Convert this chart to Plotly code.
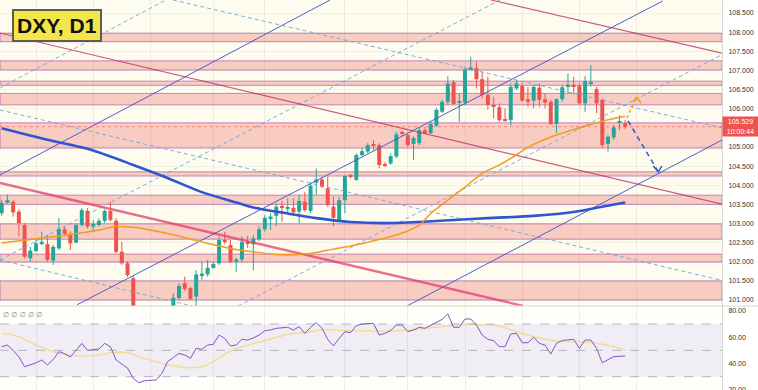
import plotly.graph_objects as go

# ---------------- data ----------------
bars = list(range(110))
opens = [103.27,103.54,103.57,103.31,102.96,102.09,102.28,102.46,102.46,102.03,
         102.35,102.85,102.73,102.50,102.96,103.33,102.92,102.96,103.07,103.33,
         103.07,102.26,101.96,101.57,100.55,99.96,99.86,100.08,100.52,100.62,
         100.72,101.05,101.44,101.31,101.09,101.65,101.67,101.84,101.96,102.57,
         102.44,102.00,102.06,102.52,102.46,102.59,102.85,103.14,103.20,103.46,
         103.38,103.41,103.31,103.57,103.33,104.07,104.15,103.92,103.44,103.06,
         103.61,104.27,104.14,104.79,104.88,105.06,105.05,104.55,104.57,104.75,
         105.37,105.31,105.08,105.10,105.44,105.36,105.56,105.92,106.18,106.69,
         106.16,106.16,107.03,107.06,106.77,106.36,106.10,106.04,105.72,105.70,
         106.53,106.59,106.25,106.21,106.55,106.25,106.18,105.60,106.25,106.59,
         106.62,106.59,106.14,106.66,106.51,106.23,105.08,105.25,105.64,105.62]
highs = [103.61,103.75,103.61,103.37,103.01,102.39,102.57,102.79,102.70,102.44,
         103.14,102.92,102.79,103.01,103.40,103.40,103.09,103.14,103.37,103.57,
         103.14,102.52,102.02,101.63,100.62,100.12,100.25,100.60,100.78,100.80,
         101.18,101.44,101.61,101.35,101.78,102.00,102.05,101.99,102.66,102.78,
         102.57,102.10,102.66,102.67,102.70,102.93,103.22,103.27,103.53,103.59,
         103.66,103.66,103.75,103.82,104.08,104.44,104.22,104.22,103.70,103.70,
         104.27,104.29,104.83,104.97,105.10,105.18,105.10,104.61,104.83,105.40,
         105.42,105.36,105.27,105.50,105.52,105.68,106.02,106.23,106.85,106.75,
         106.40,107.10,107.36,107.23,106.97,106.84,106.31,106.14,106.01,106.66,
         106.75,106.66,106.57,106.62,106.66,106.40,106.23,106.27,106.62,106.92,
         106.84,106.66,106.85,107.14,106.57,106.27,105.31,105.57,105.83,105.70]
lows = [103.20,103.52,103.18,102.66,102.09,102.00,102.26,102.44,102.00,101.92,
        102.31,102.66,102.31,102.48,102.92,102.87,102.79,102.92,103.01,103.05,
        102.22,101.92,101.60,100.45,99.90,99.58,99.62,99.95,100.35,100.40,
        100.62,101.00,101.24,101.00,100.84,101.52,101.61,101.82,101.92,102.46,
        101.97,101.74,101.99,102.36,101.78,102.54,102.79,102.83,102.94,103.05,
        103.27,103.22,103.01,103.31,103.27,103.75,103.93,103.44,102.92,103.05,
        103.27,104.18,104.11,104.75,104.84,104.92,104.44,104.48,104.53,104.71,
        105.29,105.01,104.66,105.05,105.34,105.34,105.52,105.89,106.10,106.10,
        105.66,106.10,107.01,106.53,106.27,105.97,105.75,105.66,105.66,105.57,
        106.49,106.18,106.05,106.01,106.05,106.01,105.57,105.37,106.18,106.40,
        106.40,106.10,105.92,106.57,105.88,104.97,104.88,105.18,105.44,105.47]
closes = [103.54,103.61,103.29,103.01,102.13,102.29,102.48,102.52,102.05,102.39,
          102.86,102.73,102.48,102.96,103.35,102.92,102.99,103.07,103.33,103.09,
          102.26,101.96,101.65,100.55,99.96,99.86,100.08,100.52,100.62,100.70,
          101.06,101.37,101.29,101.03,101.67,101.69,101.84,101.94,102.57,102.52,
          102.00,102.06,102.52,102.48,102.61,102.85,103.15,103.18,103.44,103.41,
          103.42,103.29,103.59,103.35,103.99,104.15,103.96,103.48,103.15,103.61,
          104.24,104.22,104.79,104.89,105.05,105.04,104.53,104.51,104.76,105.33,
          105.34,105.05,105.23,105.44,105.36,105.60,105.97,106.18,106.66,106.12,
          106.18,107.03,107.08,106.77,106.36,106.10,106.07,105.70,105.69,106.57,
          106.66,106.21,106.18,106.57,106.23,106.16,105.60,106.25,106.56,106.62,
          106.59,106.14,106.72,106.69,106.14,105.05,105.27,105.51,105.68,105.529]

rsi = [52.8,54.0,50.0,45.0,37.6,39.0,40.5,42.7,38.9,43.0,
       49.0,47.5,45.0,50.0,55.3,50.0,50.5,51.0,55.3,52.8,
       42.7,39.5,36.5,28.7,25.4,27.0,27.5,27.5,32.5,41.4,
       44.5,47.7,46.5,43.9,51.5,50.8,54.0,54.6,61.6,59.0,
       53.3,54.0,58.4,57.8,59.5,61.6,64.9,65.5,66.7,67.0,
       67.5,65.4,68.0,62.9,67.5,71.0,66.7,58.4,53.3,59.1,
       64.2,63.4,68.7,70.0,70.5,70.5,61.6,62.9,65.0,69.2,
       69.2,64.2,65.5,67.5,66.7,69.0,71.8,73.5,77.6,67.5,
       67.5,73.8,73.8,69.2,61.6,58.4,57.3,52.8,52.8,62.4,
       62.9,55.8,55.8,59.9,55.3,54.0,47.2,55.3,57.5,58.0,
       58.4,51.5,57.8,57.8,51.5,40.6,42.7,45.2,45.5,45.7]

rsi_ma_bar = [0,3,5,8,11,14,17,19,22,24,27,29,31,33,35,37,40,44,47,51,53,56,58,61,64,66,
              69,72,75,78,81,84,87,89,92,95,98,101,104,107,109]
rsi_ma_val = [62.9,60.4,56.0,50.5,46.8,45.7,46.5,48.2,48.2,45.2,41.4,38.9,37.6,36.8,37.6,41.4,
              49.5,55.3,58.6,62.9,63.4,65.4,65.4,64.9,64.9,64.6,64.9,65.4,67.2,68.5,70.0,
              69.2,68.5,65.4,61.6,58.4,56.6,56.6,55.3,52.8,50.3]

sma_slow_bar = [0,8,15,23,29,35,41,44,50,55,61,67,73,79,85,93,99,104,109]
sma_slow_val = [105.49,105.19,104.95,104.53,104.19,103.82,103.55,103.42,103.26,103.14,
                103.04,103.01,103.04,103.09,103.14,103.20,103.28,103.41,103.55]

sma_fast_bar = [0,6,12,17,20,23,29,35,41,44,49,53,58,61,67,70,73,75,78,81,84,87,89,92,96,101,105,109]
sma_fast_val = [102.49,102.60,102.71,102.83,102.92,102.90,102.74,102.52,102.32,102.26,102.18,
                102.20,102.33,102.41,102.62,102.75,102.96,103.26,103.61,103.95,104.31,104.53,
                104.70,104.99,105.26,105.50,105.67,105.80]

zone_low = [107.75,107.01,106.61,106.10,104.97,104.24,103.50,102.59,101.99,101.00]
zone_high = [107.97,107.25,106.72,106.40,105.63,104.35,103.74,102.99,102.20,101.50]

# trend lines: [bar0, price0, bar1, price1]
blue_channel = [[-0.30,104.267,57.40,108.84],
                [13.17,100.876,115.6,108.816],
                [70.86,100.844,125.93,105.182]]
red_channel_thin = [[-0.30,107.978,125.93,103.507],
                    [85.54,108.84,125.93,107.452]]
red_channel_thick = [[-0.30,104.058,91.13,100.847]]
dashed_lines = [[-0.30,106.541,28.72,108.84],
                [29.95,108.84,125.93,105.498],
                [-0.30,105.966,125.93,101.513],
                [-0.30,102.046,87.12,108.84],
                [41.31,100.84,125.93,107.413],
                [-0.30,102.046,33.27,100.844]]

up_arrow_bar = [109.3,110.98]
up_arrow_val = [105.757,106.305]
up_head_bar = [110.4,110.98,111.8]
up_head_val = [106.17,106.30,106.14]
down_arrow_bar = [109.5,114.8]
down_arrow_val = [105.68,104.35]
down_head_bar = [113.9,114.8,115.4]
down_head_val = [104.50,104.35,104.50]

last_price = 105.529
price_ticks = [101.0,101.5,102.0,102.5,103.0,103.5,104.0,104.5,105.0,106.0,106.5,107.0,107.5,108.0,108.5]
rsi_ticks = [20,40,60,80]
grid_bars = [6,16,26,37,46,60,71,81,91,101,111]

# ---------------- figure ----------------
UP = "#26a69a"
DN = "#ef5350"
fig = go.Figure()

bases = [min(o, c) for o, c in zip(opens, closes)]
heights = [max(abs(c - o), 0.015) for o, c in zip(opens, closes)]
colors = [UP if c >= o else DN for o, c in zip(opens, closes)]

for col in (UP, DN):
    wx, wy = [], []
    for i, o, h, l, c in zip(bars, opens, highs, lows, closes):
        if (UP if c >= o else DN) == col:
            wx += [i, i, None]
            wy += [l, h, None]
    fig.add_trace(go.Scatter(x=wx, y=wy, mode="lines", line=dict(color=col, width=1),
                             hoverinfo="skip", showlegend=False))
fig.add_trace(go.Bar(x=bars, y=heights, base=bases, marker=dict(color=colors, line=dict(width=0)),
                     width=0.7, hoverinfo="skip", showlegend=False))


def add_lines(lines, color, width, dash="solid"):
    for b0, p0, b1, p1 in lines:
        fig.add_trace(go.Scatter(x=[b0, b1], y=[p0, p1], mode="lines",
                                 line=dict(color=color, width=width, dash=dash),
                                 hoverinfo="skip", showlegend=False))

add_lines(dashed_lines, "rgba(110,165,220,0.9)", 1, "4px,3px")
add_lines(red_channel_thick, "rgba(226,60,110,0.75)", 2.4)
add_lines(red_channel_thin, "rgba(190,40,95,0.75)", 1.2)
add_lines(blue_channel, "rgba(60,80,200,0.9)", 1)

fig.add_trace(go.Scatter(x=sma_slow_bar, y=sma_slow_val, mode="lines",
                         line=dict(color="#2f55cf", width=2.6, shape="spline", smoothing=0.8),
                         hoverinfo="skip", showlegend=False))
fig.add_trace(go.Scatter(x=sma_fast_bar, y=sma_fast_val, mode="lines",
                         line=dict(color="#f29b1f", width=1.5, shape="spline", smoothing=0.8),
                         hoverinfo="skip", showlegend=False))

# projection arrows
fig.add_trace(go.Scatter(x=up_arrow_bar, y=up_arrow_val, mode="lines",
                         line=dict(color="#f29b1f", width=1.5, dash="3px,3px"), hoverinfo="skip", showlegend=False))
fig.add_trace(go.Scatter(x=up_head_bar, y=up_head_val, mode="lines",
                         line=dict(color="#f29b1f", width=1.5), hoverinfo="skip", showlegend=False))
fig.add_trace(go.Scatter(x=down_arrow_bar, y=down_arrow_val, mode="lines",
                         line=dict(color="#3a55c8", width=1.5, dash="5px,4px"), hoverinfo="skip", showlegend=False))
fig.add_trace(go.Scatter(x=down_head_bar, y=down_head_val, mode="lines",
                         line=dict(color="#3a55c8", width=1.5), hoverinfo="skip", showlegend=False))

# RSI pane
fig.add_trace(go.Scatter(x=rsi_ma_bar, y=rsi_ma_val, yaxis="y2", mode="lines",
                         line=dict(color="rgba(245,210,100,0.65)", width=1.5, shape="spline"),
                         hoverinfo="skip", showlegend=False))
fig.add_trace(go.Scatter(x=bars, y=rsi, yaxis="y2", mode="lines",
                         line=dict(color="#7e57c2", width=1), hoverinfo="skip", showlegend=False))

SPLIT = 84 / 390
shapes = []
# white-ish background for the oscillator pane
shapes.append(dict(type="rect", xref="paper", x0=0, x1=1, yref="paper", y0=0, y1=SPLIT,
                   fillcolor="#fefefb", line=dict(width=0), layer="below"))
for lo, hi in zip(zone_low, zone_high):
    shapes.append(dict(type="rect", xref="paper", x0=0, x1=1, yref="y", y0=lo, y1=hi,
                       fillcolor="rgba(240,80,80,0.28)", line=dict(color="rgba(160,70,160,0.6)", width=1),
                       layer="below"))
shapes.append(dict(type="line", xref="paper", x0=0, x1=1, yref="y", y0=last_price, y1=last_price,
                   line=dict(color="rgba(239,83,80,0.6)", width=1, dash="dot")))
shapes.append(dict(type="rect", xref="paper", x0=0, x1=1, yref="y2", y0=30, y1=70,
                   fillcolor="rgba(126,87,194,0.1)", line=dict(width=0), layer="below"))
for lvl in (70, 50, 30):
    shapes.append(dict(type="line", xref="paper", x0=0, x1=1, yref="y2", y0=lvl, y1=lvl,
                       line=dict(color="rgba(120,123,134,0.5)", width=1, dash="dash")))
shapes.append(dict(type="line", xref="paper", x0=0, x1=1.05, yref="paper", y0=SPLIT, y1=SPLIT,
                   line=dict(color="#d6d6d6", width=1)))

annotations = [
    dict(xref="paper", yref="paper", x=12 / 722, y=1 - 9 / 390, xanchor="left", yanchor="top",
         text="<b>DXY, D1</b>", showarrow=False,
         font=dict(family="Liberation Sans, Arial", size=21, color="#111"),
         bgcolor="#f4e54a", bordercolor="#5e5e4e", borderwidth=2, borderpad=3),
    dict(xref="paper", yref="y", x=1, y=last_price, xanchor="left", yanchor="middle",
         text="105.529<br>10:00:44", showarrow=False, align="center",
         font=dict(family="Liberation Sans, Arial", size=7, color="white"),
         bgcolor="#ef5350", width=33, height=17, borderpad=1),
    dict(xref="paper", yref="paper", x=0.001, y=1 - 315 / 390, xanchor="left", yanchor="middle",
         text="∅ ∅ ∅ ∅ ∅", showarrow=False,
         font=dict(family="DejaVu Sans", size=7, color="#8a8a8a")),
]

fig.update_layout(
    width=758, height=390,
    margin=dict(l=0, r=36, t=0, b=0, autoexpand=False),
    paper_bgcolor="white", plot_bgcolor="#fdfcee",
    barmode="overlay", showlegend=False,
    xaxis=dict(range=[-0.297, 125.93], anchor="y2", showticklabels=False, zeroline=False,
               showgrid=True, gridcolor="rgba(42,46,57,0.07)", tickvals=grid_bars, ticks="",
               automargin=False),
    yaxis=dict(domain=[SPLIT, 1], range=[100.844, 108.84], side="right",
               tickvals=price_ticks, ticktext=[f"{v:.3f}" for v in price_ticks],
               tickfont=dict(family="Liberation Sans, Arial", size=7, color="#333"),
               showgrid=True, gridcolor="rgba(42,46,57,0.05)", zeroline=False,
               showline=True, linecolor="#d6d6d6", linewidth=1, ticks="", ticklabelstandoff=4,
               automargin=False),
    yaxis2=dict(domain=[0, SPLIT], range=[19.9, 83.66], side="right",
                tickvals=rsi_ticks, ticktext=[f"{v:.2f}" for v in rsi_ticks],
                tickfont=dict(family="Liberation Sans, Arial", size=7, color="#333"),
                showgrid=False, zeroline=False, showline=True, linecolor="#d6d6d6",
                linewidth=1, ticks="", ticklabelstandoff=4, ticklabeloverflow="allow",
                automargin=False),
    shapes=shapes, annotations=annotations,
)

fig.write_html("out.html")
